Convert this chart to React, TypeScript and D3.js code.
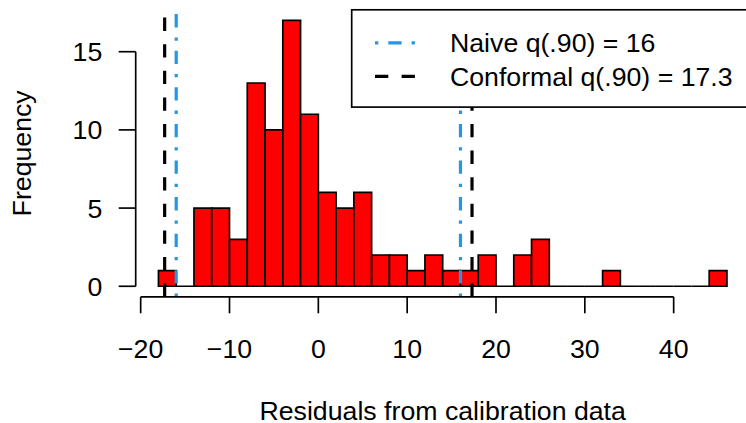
import React from "react";
import * as d3 from "d3";

// ---- data ----
const binEdges = [-18, -16, -14, -12, -10, -8, -6, -4, -2, 0, 2, 4, 6, 8, 10, 12, 14, 16, 18, 20, 22, 24, 26, 28, 30, 32, 34, 36, 38, 40, 42, 44, 46];
const counts = [1, 0, 5, 5, 3, 13, 10, 17, 11, 6, 5, 6, 2, 2, 1, 2, 1, 1, 2, 0, 2, 3, 0, 0, 0, 1, 0, 0, 0, 0, 0, 1];
const xTicks = [-20, -10, 0, 10, 20, 30, 40];
const yTicks = [0, 5, 10, 15];
const naiveQ = 16;
const conformalQ = 17.3;
const legendLabels = ["Naive q(.90) = 16", "Conformal q(.90) = 17.3"];
const xLabel = "Residuals from calibration data";
const yLabel = "Frequency";

const W = 746;
const H = 423;
const FONT = "'Liberation Sans', Arial, Helvetica, sans-serif";
const FS = 26.7;
const BLUE = "#2297E6";

export default function App() {
  const xmin = binEdges[0];
  const xmax = binEdges[binEdges.length - 1];
  const xr = xmax - xmin;
  const ymax = d3.max(counts) as number;
  const x = d3
    .scaleLinear()
    .domain([xmin - 0.04 * xr, xmax + 0.04 * xr])
    .range([135.7, 749.7]);
  const y = d3
    .scaleLinear()
    .domain([-0.04 * ymax, ymax * 1.04])
    .range([296.9, 9.8]);

  const [px0, px1] = x.range();
  const [py0, py1] = y.range(); // bottom, top
  const lw = 1.67;

  const bars = counts.map((c, i) => {
    const x0 = x(binEdges[i]);
    const x1 = x(binEdges[i + 1]);
    const yb = y(0);
    const yt = y(c);
    return `M${x0},${yb}V${yt}H${x1}V${yb}Z`;
  });

  const vlines = [
    { v: -naiveQ, color: BLUE, dash: "3.3,10,13.3,10" },
    { v: naiveQ, color: BLUE, dash: "3.3,10,13.3,10" },
    { v: -conformalQ, color: "black", dash: "13.3,13.3" },
    { v: conformalQ, color: "black", dash: "13.3,13.3" },
  ];

  const legX = 351.7;
  const legY = py1;
  const legH = 97.3;
  const rowY = [42.8, 76.4];
  const sampleX0 = 375;
  const sampleX1 = 415;
  const textX = 450;

  return (
    <svg
      width={W}
      height={H}
      style={{ position: "absolute", left: 0, top: 0, background: "white" }}
      fontFamily={FONT}
    >
      <rect x={0} y={0} width={W} height={H} fill="white" />
      {/* bars */}
      {bars.map((d, i) => (
        <path key={i} d={d} fill="#FF0000" stroke="black" strokeWidth={lw} />
      ))}
      {/* vertical quantile lines */}
      <defs>
        <clipPath id="plotclip">
          <rect x={px0} y={py1} width={px1 - px0} height={py0 - py1} />
        </clipPath>
      </defs>
      <g clipPath="url(#plotclip)">
        {vlines.map((l, i) => (
          <line
            key={i}
            x1={x(l.v)}
            x2={x(l.v)}
            y1={py0}
            y2={py1}
            stroke={l.color}
            strokeWidth={3.2}
            strokeDasharray={l.dash}
          />
        ))}
      </g>
      {/* x axis */}
      <line
        x1={x(xTicks[0])}
        x2={x(xTicks[xTicks.length - 1])}
        y1={py0}
        y2={py0}
        stroke="black"
        strokeWidth={lw}
      />
      {xTicks.map((t) => (
        <g key={t}>
          <line x1={x(t)} x2={x(t)} y1={py0} y2={py0 + 16.4} stroke="black" strokeWidth={lw} />
          <text x={x(t)} y={357.7} textAnchor="middle" fontSize={FS} fill="black">
            {t < 0 ? "\u2212" + Math.abs(t) : String(t)}
          </text>
        </g>
      ))}
      {/* y axis */}
      <line
        x1={px0}
        x2={px0}
        y1={y(yTicks[0])}
        y2={y(yTicks[yTicks.length - 1])}
        stroke="black"
        strokeWidth={lw}
      />
      {yTicks.map((t) => (
        <g key={t}>
          <line x1={px0} x2={px0 - 17} y1={y(t)} y2={y(t)} stroke="black" strokeWidth={lw} />
          <text
            x={102.3}
            y={y(t) + 9.6}
            textAnchor="end"
            fontSize={FS}
            fill="black"
          >
            {t}
          </text>
        </g>
      ))}
      {/* axis titles */}
      <text x={(px0 + px1) / 2} y={419.6} textAnchor="middle" fontSize={FS} fill="black">
        {xLabel}
      </text>
      <text
        transform={`translate(31,${(py0 + py1) / 2}) rotate(-90)`}
        textAnchor="middle"
        fontSize={FS}
        fill="black"
      >
        {yLabel}
      </text>
      {/* legend */}
      <rect
        x={legX}
        y={legY}
        width={px1 - legX}
        height={legH}
        fill="white"
        stroke="black"
        strokeWidth={lw}
      />
      <line
        x1={sampleX0}
        x2={sampleX1}
        y1={rowY[0]}
        y2={rowY[0]}
        stroke={BLUE}
        strokeWidth={3.2}
        strokeDasharray="3.3,10,13.3,10"
      />
      <line
        x1={sampleX0}
        x2={sampleX1}
        y1={rowY[1]}
        y2={rowY[1]}
        stroke="black"
        strokeWidth={3.2}
        strokeDasharray="13.3,13.3"
      />
      {legendLabels.map((s, i) => (
        <text key={s} x={textX} y={rowY[i] + 9.6} fontSize={FS} fill="black">
          {s}
        </text>
      ))}
    </svg>
  );
}
